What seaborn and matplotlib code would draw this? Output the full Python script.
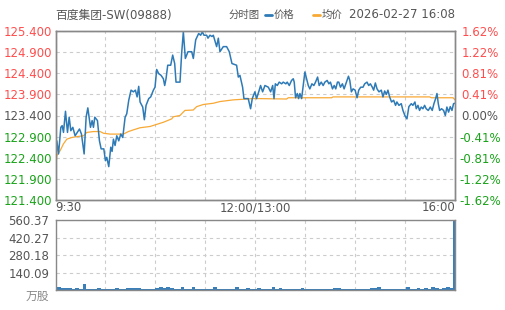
import matplotlib
matplotlib.use('Agg')
import matplotlib.pyplot as plt
from matplotlib.lines import Line2D
import seaborn as sns

# ---------------- data ----------------
title_text = "百度集团-SW(09888)"
chart_label = "分时图"
legend_price = "价格"
legend_avg = "均价"
date_text = "2026-02-27 16:08"
vol_unit = "万股"

prev_close = 123.4
y_ticks = [121.4, 121.9, 122.4, 122.9, 123.4, 123.9, 124.4, 124.9, 125.4]
y_tick_labels = ["121.400", "121.900", "122.400", "122.900", "123.400",
                 "123.900", "124.400", "124.900", "125.400"]
pct_labels = ["-1.62%", "-1.22%", "-0.81%", "-0.41%", "0.00%",
              "0.41%", "0.81%", "1.22%", "1.62%"]
x_tick_labels = ["9:30", "12:00/13:00", "16:00"]
vol_ticks = [0, 140.09, 280.18, 420.27, 560.37]
vol_tick_labels = [vol_unit, "140.09", "280.18", "420.27", "560.37"]

# minute index from 9:30 (0) to 16:00 (330)
price_minute = [
    0, 1.1, 2.5, 4.4, 5.5, 6.6, 8.25, 9.9, 11.3, 12.65, 14.3, 16.2, 19.8, 21.45,
    23.65, 25.3, 26.7, 28.9, 30.25, 31.35, 32.45, 34.65, 36.3, 37.7, 39.9, 41.25,
    42.35, 44.0, 45.65, 46.75, 47.85, 49.2, 50.6, 52.25, 53.9, 55.55, 57.5, 58.85,
    60.5, 62.4, 64.35, 66.0, 67.4, 68.75, 69.85, 72.05, 73.4, 74.8, 77.0, 78.65,
    80.85, 82.2, 83.6, 85.25, 87.2, 89.1, 90.2, 91.3, 92.7, 95.15, 96.8, 98.45,
    99.55, 102.85, 104.2, 105.6, 107.25, 109.45, 112.5, 113.85, 115.8, 118.25,
    119.9, 121.3, 122.65, 124.85, 125.95, 127.6, 129.25, 130.35, 133.1, 134.5,
    135.85, 138.6, 141.35, 143.55, 145.75, 149.6, 151.0, 152.35, 154.55, 155.65,
    159.2, 161.15, 162.55, 164.7, 166.1, 168.3,
    169.4, 171.1, 173.0, 175.8, 177.7, 179.4, 180.5, 181.6, 183.2, 184.8, 186.8,
    188.1, 190.3, 191.4, 193.1, 195.0, 196.4, 197.2, 198.3, 199.7, 200.8, 201.9,
    203.3, 204.6, 206.0, 207.4, 208.8, 210.1, 211.8, 213.4, 214.8, 216.5, 217.8,
    219.5, 221.1, 222.5, 224.4, 225.8, 227.1, 228.8, 230.2, 231.5, 232.9, 234.0,
    235.4, 237.0, 238.4, 240.3, 242.0, 243.1, 244.4, 245.8, 247.5, 249.1, 250.5,
    252.1, 254.0, 255.4, 257.3, 258.7, 260.1, 261.7, 262.8, 264.2, 265.6, 267.2,
    269.1, 270.5, 271.9, 273.3, 274.6, 276.0, 277.6, 279.3, 280.9, 282.0, 283.7,
    285.6, 287.0, 288.6, 290.3, 291.9, 293.9, 295.2, 296.9, 298.0, 299.4, 300.7,
    302.1, 303.5, 304.9, 306.2, 307.9, 309.6, 311.2, 312.6, 314.0, 315.1, 316.2,
    317.3, 318.9, 320.6, 322.0, 323.3, 324.7, 326.1, 327.5, 328.8, 330.0,
]
price_value = [
    122.09, 122.80, 122.49, 123.12, 123.16, 123.00, 123.50, 123.00, 123.36, 123.04,
    123.12, 122.92, 123.08, 122.96, 122.49, 123.36, 123.58, 123.12, 123.28, 123.12,
    123.36, 123.28, 122.80, 122.61, 122.61, 122.33, 122.41, 122.19, 122.65, 122.55,
    122.84, 122.69, 122.92, 122.80, 122.96, 122.88, 123.36, 123.44, 123.76, 124.00,
    123.96, 124.00, 123.84, 124.09, 123.72, 123.60, 123.30, 123.64, 123.80, 123.84,
    124.00, 124.07, 124.49, 124.39, 124.35, 124.27, 124.11, 124.27, 124.59, 124.59,
    124.83, 124.63, 124.19, 124.19, 124.87, 125.38, 124.75, 124.91, 124.91, 124.75,
    125.19, 125.34, 125.30, 125.38, 125.30, 125.30, 125.23, 125.30, 125.27, 125.30,
    125.03, 125.23, 124.91, 125.03, 125.03, 124.91, 124.63, 124.59, 124.31, 124.35,
    124.07, 123.80, 123.80, 123.56, 123.80, 123.96, 123.80, 124.00,
    124.11, 123.96, 124.11, 124.07, 123.96, 124.11, 123.80, 124.15, 124.11, 124.19,
    124.15, 124.19, 124.15, 124.19, 124.11, 124.23, 124.27, 124.19, 123.82, 123.92,
    123.80, 123.92, 123.80, 124.11, 124.43, 124.27, 124.11, 124.03, 124.15, 124.11,
    124.19, 124.31, 124.11, 124.19, 124.11, 124.19, 124.23, 124.15, 124.19, 124.03,
    124.11, 124.03, 124.19, 124.19, 124.07, 124.15, 124.03, 124.19, 124.33, 124.23,
    123.96, 124.03, 124.00, 123.82, 124.00, 124.07, 124.07, 124.15, 124.19, 124.11,
    124.15, 124.07, 124.00, 124.17, 124.03, 123.96, 124.00, 123.84, 123.98, 123.90,
    124.00, 123.84, 123.72, 123.76, 123.64, 123.72, 123.64, 123.68, 123.52, 123.40,
    123.32, 123.61, 123.68, 123.64, 123.72, 123.56, 123.64, 123.52, 123.60, 123.56,
    123.64, 123.56, 123.52, 123.60, 123.52, 123.68, 123.80, 123.92, 123.68, 123.52,
    123.56, 123.52, 123.40, 123.60, 123.48, 123.61, 123.52, 123.68, 123.69,
]

avg_minute = [
    0, 1.1, 3.85, 6.6, 9.35, 13.5, 17.6, 23.1, 25.9, 31.4, 36.9, 39.6, 45.1, 56.1,
    60.2, 64.35, 69.85, 78.1, 83.6, 89.1, 96.0, 97.3, 102.8, 106.9, 113.8, 116.6,
    122.1, 130.35, 135.85, 146.85, 152.35, 163.35, 168.3, 190.9, 192.3, 228.0,
    229.3, 309.1, 310.5, 328.4, 330.0,
]
avg_value = [
    122.09, 122.45, 122.57, 122.73, 122.84, 122.88, 122.90, 122.92, 123.00, 123.02,
    123.02, 122.98, 122.96, 122.96, 123.02, 123.06, 123.11, 123.14, 123.19, 123.24,
    123.32, 123.37, 123.40, 123.52, 123.53, 123.61, 123.66, 123.69, 123.73, 123.77,
    123.78, 123.80, 123.80, 123.79, 123.82, 123.82, 123.84, 123.84, 123.82, 123.82,
    123.77,
]

# volume bars, one every 3 minutes (0 .. 330)
vol_minute = [3 * i for i in range(111)]
vol_value = [
    30, 22, 20, 14, 18, 12, 18, 12, 50, 12, 12, 12, 20, 12, 12, 12, 12, 16, 12, 12,
    18, 14, 16, 20, 12, 12, 12, 12, 18, 22, 13, 26, 16, 12, 12, 22, 12, 12, 26, 12,
    12, 12, 12, 12, 24, 12, 12, 12, 12, 12, 26, 12, 12, 18, 12, 12, 20, 12, 12, 12,
    22, 12, 18, 12, 12, 12, 12, 12, 20, 12, 12, 12, 12, 12, 12, 12, 12, 18, 18, 12,
    12, 12, 12, 12, 12, 12, 12, 14, 20, 24, 12, 12, 12, 12, 12, 12, 12, 24, 12, 12,
    18, 12, 18, 12, 22, 18, 12, 20, 22, 18, 560.37,
]

# ---------------- style ----------------
sns.set_theme(style='white')
plt.rcParams['font.family'] = ['DejaVu Sans', 'Noto Sans CJK SC']
plt.rcParams['font.size'] = 8.5

BLUE = '#2e7ab6'
VOLBLUE = '#3a7fb8'
ORANGE = '#f8a935'
RED = '#ff4d4d'
GREEN = '#1aa31a'
GRAY = '#555555'
SPINE = '#888888'
GRID = '#cccccc'

W, H = 505, 310
fig = plt.figure(figsize=(W / 100, H / 100), dpi=100)

def frac_rect(x0, y0, x1, y1):
    return [x0 / W, (H - y1) / H, (x1 - x0) / W, (y1 - y0) / H]

ax = fig.add_axes(frac_rect(55.5, 31, 455, 200))
axv = fig.add_axes(frac_rect(55.5, 220, 455, 290))

# main price chart
sns.lineplot(x=avg_minute, y=avg_value, ax=ax, color=ORANGE, lw=0.9)
sns.lineplot(x=price_minute, y=price_value, ax=ax, color=BLUE, lw=1.1)
ax.set_xlim(0, 330)
ax.set_ylim(121.4, 125.4)
grid_x = [330 * k / 8 for k in range(9)]
ax.set_xticks(grid_x)
xl = [''] * 9
xl[0], xl[4], xl[8] = x_tick_labels
ax.set_xticklabels(xl)
ax.set_yticks(y_ticks)
ax.set_yticklabels(y_tick_labels)
ax.set_xlabel('')
ax.set_ylabel('')
ax.grid(True, color=GRID, linestyle=(0, (3, 3)), lw=0.8)
ax.tick_params(axis='both', length=0, labelsize=8.5)
ax.tick_params(axis='y', pad=2.5)
ax.tick_params(axis='x', pad=1, colors=GRAY)
xlabs = ax.get_xticklabels()
xlabs[0].set_horizontalalignment('left')
xlabs[8].set_horizontalalignment('right')
for v, lab in zip(y_ticks, ax.get_yticklabels()):
    if v > prev_close + 1e-6:
        lab.set_color(RED)
    elif v < prev_close - 1e-6:
        lab.set_color(GREEN)
    else:
        lab.set_color(GRAY)
for s in ax.spines.values():
    s.set_color(SPINE)
    s.set_linewidth(1)

axr = ax.twinx()
axr.set_ylim(121.4, 125.4)
axr.set_yticks(y_ticks)
axr.set_yticklabels(pct_labels)
axr.tick_params(axis='y', length=0, pad=18, labelsize=8.5)
axr.grid(False)
for v, lab in zip(y_ticks, axr.get_yticklabels()):
    lab.set_horizontalalignment('center')
    if v > prev_close + 1e-6:
        lab.set_color(RED)
    elif v < prev_close - 1e-6:
        lab.set_color(GREEN)
    else:
        lab.set_color(GRAY)
for s in axr.spines.values():
    s.set_color(SPINE)
    s.set_linewidth(1)

# volume chart
sns.barplot(x=vol_minute, y=vol_value, ax=axv, native_scale=True,
            color=VOLBLUE, width=1.0, errorbar=None, saturation=1,
            linewidth=0)
axv.set_xlim(0, 330)
axv.set_ylim(0, 560.37)
axv.set_xticks(grid_x)
axv.set_xticklabels([''] * 9)
axv.set_yticks(vol_ticks)
axv.set_yticklabels(vol_tick_labels)
axv.set_xlabel('')
axv.set_ylabel('')
axv.grid(True, color=GRID, linestyle=(0, (3, 3)), lw=0.8)
axv.set_axisbelow(True)
axv.tick_params(axis='both', length=0, labelsize=8.5, colors=GRAY)
axv.tick_params(axis='y', pad=4.5)
ylabs = axv.get_yticklabels()
ylabs[0].set_color('#888888')
ylabs[0].set_verticalalignment('top')
for s in axv.spines.values():
    s.set_color(SPINE)
    s.set_linewidth(1)

# header row
ty = (H - 15) / H
fig.text(55 / W, ty, title_text, color=GRAY, fontsize=8.5, va='center', ha='left')
fig.text(229 / W, ty, chart_label, color=GRAY, fontsize=7.5, va='center', ha='left')
fig.add_artist(Line2D([265 / W, 272 / W], [ty, ty], color=BLUE, lw=2))
fig.text(274 / W, ty, legend_price, color=GRAY, fontsize=7.5, va='center', ha='left')
fig.add_artist(Line2D([313 / W, 320 / W], [ty, ty], color=ORANGE, lw=2))
fig.text(322 / W, ty, legend_avg, color=GRAY, fontsize=7.5, va='center', ha='left')
fig.text(455 / W, ty, date_text, color=GRAY, fontsize=8.5, va='center', ha='right')

fig.savefig('out.png', dpi=100)
